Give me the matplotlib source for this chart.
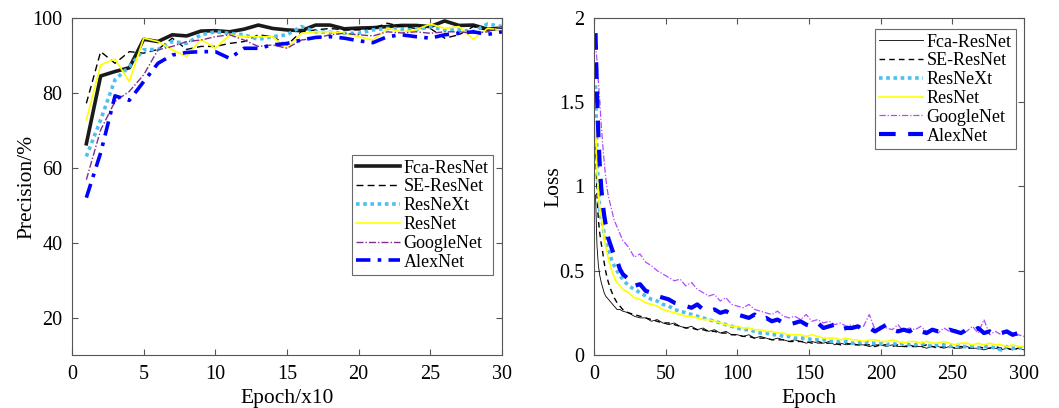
import matplotlib
matplotlib.use("Agg")
import matplotlib.pyplot as plt
import numpy as np

plt.rcParams['font.family'] = ['Liberation Serif', 'DejaVu Serif']
plt.rcParams['mathtext.fontset'] = 'stix'

# ---------------- Left: precision ----------------
prec_epoch = list(range(1, 31))
prec_fca = [66.4, 84.5, 85.7, 86.7, 94.3, 93.7, 95.5, 95.2, 96.5, 96.6,
            96.3, 97.0, 98.1, 97.2, 96.8, 96.6, 98.1, 98.1, 97.1, 97.3,
            97.4, 97.7, 98.0, 98.0, 97.7, 99.2, 98.0, 98.1, 97.0, 97.3]
prec_se = [77.2, 91.0, 87.9, 91.0, 90.6, 91.6, 94.6, 91.6, 92.4, 92.4,
           93.2, 93.7, 95.5, 95.0, 92.8, 96.3, 96.8, 97.2, 96.8, 96.8,
           97.2, 98.6, 97.7, 97.2, 97.2, 94.6, 95.5, 97.7, 96.6, 97.2]
prec_resnext = [63.0, 72.8, 83.5, 87.0, 91.5, 91.6, 93.7, 93.2, 95.5, 96.3,
                95.9, 95.5, 94.3, 95.0, 95.5, 97.7, 96.3, 96.2, 95.9, 95.9,
                96.8, 97.2, 97.0, 96.8, 97.7, 96.8, 96.8, 96.3, 98.4, 97.7]
prec_resnet = [72.8, 87.5, 89.0, 83.0, 94.6, 93.7, 91.5, 89.7, 94.3, 91.9,
               95.5, 95.0, 95.0, 95.0, 91.9, 95.9, 96.3, 96.3, 95.9, 95.0,
               94.1, 97.2, 96.3, 96.8, 98.4, 97.2, 97.7, 94.3, 97.2, 96.8]
prec_google = [56.8, 70.1, 77.7, 80.4, 84.8, 91.5, 92.4, 93.7, 94.1, 95.0,
               95.5, 94.1, 92.4, 92.8, 91.9, 94.1, 94.6, 95.5, 95.9, 95.5,
               95.2, 96.3, 96.0, 96.3, 95.9, 96.3, 96.3, 95.9, 96.3, 97.7]
prec_alex = [52.0, 64.0, 79.2, 78.0, 83.0, 87.9, 90.1, 90.8, 91.0, 91.0,
             89.2, 91.9, 91.9, 92.8, 93.2, 94.1, 94.8, 95.0, 94.6, 93.9,
             93.4, 95.0, 95.5, 95.0, 94.6, 95.5, 95.9, 96.3, 95.6, 96.3]

# ---------------- Right: loss ----------------
loss_epoch = [1, 2, 3, 4, 5, 6, 7, 8, 9, 10, 12, 14, 16, 18, 20,
              24, 28, 32, 36, 40, 44, 48, 52, 56, 60,
              64, 68, 72, 76, 80, 84, 88, 92, 96, 100,
              104, 108, 112, 116, 120, 124, 128, 132, 136, 140,
              144, 148, 152, 156, 160, 164, 168, 172, 176, 180,
              184, 188, 192, 196, 200, 204, 208, 212, 216, 220,
              224, 228, 232, 236, 240, 244, 248, 252, 256, 260,
              264, 268, 272, 276, 280, 284, 288, 292, 296, 300]
loss_fca = [0.95, 0.65, 0.53, 0.47, 0.43, 0.40, 0.37, 0.35, 0.34, 0.33, 0.31, 0.29, 0.27, 0.27, 0.26,
            0.25, 0.23, 0.22, 0.22, 0.20, 0.21, 0.19, 0.18, 0.19, 0.17,
            0.16, 0.17, 0.15, 0.16, 0.14, 0.15, 0.13, 0.14, 0.12, 0.12,
            0.11, 0.12, 0.10, 0.11, 0.10, 0.09, 0.10, 0.09, 0.08, 0.09,
            0.08, 0.07, 0.08, 0.07, 0.07, 0.08, 0.06, 0.07, 0.06, 0.07,
            0.06, 0.06, 0.05, 0.06, 0.06, 0.05, 0.06, 0.05, 0.05, 0.06,
            0.05, 0.05, 0.04, 0.05, 0.05, 0.04, 0.05, 0.04, 0.04, 0.05,
            0.04, 0.04, 0.03, 0.04, 0.04, 0.03, 0.04, 0.03, 0.04, 0.03]
loss_se = [1.25, 0.95, 0.80, 0.72, 0.66, 0.61, 0.55, 0.50, 0.46, 0.43, 0.38, 0.34, 0.31, 0.29, 0.27,
           0.25, 0.24, 0.23, 0.22, 0.21, 0.20, 0.19, 0.19, 0.18, 0.17,
           0.16, 0.16, 0.15, 0.15, 0.14, 0.14, 0.13, 0.13, 0.12, 0.12,
           0.11, 0.11, 0.10, 0.10, 0.10, 0.09, 0.09, 0.09, 0.08, 0.08,
           0.08, 0.08, 0.07, 0.08, 0.07, 0.07, 0.07, 0.06, 0.07, 0.06,
           0.06, 0.06, 0.06, 0.05, 0.06, 0.06, 0.05, 0.06, 0.05, 0.05,
           0.05, 0.05, 0.06, 0.05, 0.04, 0.05, 0.05, 0.04, 0.05, 0.04,
           0.04, 0.05, 0.04, 0.04, 0.05, 0.04, 0.04, 0.03, 0.04, 0.04]
loss_resnext = [1.60, 1.20, 0.98, 0.86, 0.80, 0.78, 0.72, 0.68, 0.64, 0.62, 0.57, 0.53, 0.50, 0.47, 0.45,
                0.41, 0.39, 0.37, 0.35, 0.33, 0.32, 0.30, 0.29, 0.27, 0.26,
                0.25, 0.24, 0.23, 0.22, 0.21, 0.20, 0.19, 0.18, 0.17, 0.16,
                0.15, 0.15, 0.14, 0.13, 0.13, 0.12, 0.12, 0.11, 0.11, 0.10,
                0.10, 0.10, 0.09, 0.09, 0.09, 0.08, 0.08, 0.08, 0.08, 0.07,
                0.07, 0.08, 0.07, 0.07, 0.07, 0.06, 0.07, 0.06, 0.07, 0.06,
                0.06, 0.07, 0.06, 0.05, 0.06, 0.06, 0.05, 0.06, 0.05, 0.05,
                0.05, 0.04, 0.05, 0.05, 0.04, 0.03, 0.05, 0.04, 0.04, 0.04]
loss_resnet = [1.38, 1.10, 0.95, 0.87, 0.82, 0.77, 0.70, 0.65, 0.61, 0.57, 0.51, 0.46, 0.43, 0.41, 0.39,
               0.37, 0.34, 0.33, 0.31, 0.30, 0.29, 0.27, 0.26, 0.25, 0.24,
               0.23, 0.23, 0.22, 0.21, 0.21, 0.20, 0.19, 0.18, 0.17, 0.17,
               0.16, 0.16, 0.15, 0.15, 0.14, 0.14, 0.13, 0.13, 0.12, 0.12,
               0.12, 0.11, 0.12, 0.11, 0.10, 0.10, 0.10, 0.09, 0.10, 0.09,
               0.09, 0.08, 0.09, 0.09, 0.08, 0.08, 0.09, 0.08, 0.07, 0.08,
               0.08, 0.07, 0.08, 0.07, 0.07, 0.08, 0.07, 0.06, 0.07, 0.07,
               0.06, 0.07, 0.06, 0.07, 0.06, 0.06, 0.05, 0.06, 0.05, 0.05]
loss_google = [1.85, 1.75, 1.62, 1.50, 1.36, 1.25, 1.15, 1.06, 0.99, 0.94, 0.87, 0.80, 0.76, 0.72, 0.68,
               0.64, 0.58, 0.60, 0.55, 0.53, 0.50, 0.48, 0.46, 0.44, 0.45,
               0.41, 0.43, 0.39, 0.37, 0.35, 0.36, 0.32, 0.34, 0.30, 0.29,
               0.28, 0.30, 0.27, 0.26, 0.25, 0.24, 0.26, 0.23, 0.22, 0.23,
               0.21, 0.24, 0.20, 0.21, 0.19, 0.20, 0.18, 0.19, 0.17, 0.18,
               0.16, 0.17, 0.24, 0.15, 0.17, 0.16, 0.15, 0.18, 0.14, 0.16,
               0.15, 0.17, 0.14, 0.15, 0.13, 0.16, 0.14, 0.15, 0.13, 0.14,
               0.17, 0.13, 0.21, 0.12, 0.14, 0.12, 0.13, 0.11, 0.12, 0.11]
loss_alex = [1.91, 1.55, 1.30, 1.12, 0.99, 0.90, 0.83, 0.78, 0.73, 0.69, 0.64, 0.59, 0.56, 0.51, 0.48,
             0.45, 0.41, 0.42, 0.38, 0.37, 0.35, 0.34, 0.33, 0.31, 0.30,
             0.29, 0.28, 0.30, 0.27, 0.26, 0.27, 0.25, 0.26, 0.24, 0.24,
             0.23, 0.22, 0.24, 0.21, 0.22, 0.20, 0.21, 0.19, 0.18, 0.19,
             0.20, 0.18, 0.17, 0.19, 0.16, 0.17, 0.18, 0.15, 0.16, 0.16,
             0.17, 0.15, 0.16, 0.14, 0.16, 0.18, 0.15, 0.14, 0.15, 0.14,
             0.16, 0.14, 0.13, 0.15, 0.14, 0.13, 0.15, 0.14, 0.13, 0.15,
             0.14, 0.16, 0.13, 0.14, 0.12, 0.13, 0.14, 0.12, 0.13, 0.12]

names = ['Fca-ResNet', 'SE-ResNet', 'ResNeXt', 'ResNet', 'GoogleNet', 'AlexNet']

fig = plt.figure(figsize=(10.59, 4.08), dpi=100)
axL = fig.add_axes([0.068, 0.130, 0.406, 0.826])
axR = fig.add_axes([0.561, 0.130, 0.406, 0.826])

spine_col = '#555555'
def style(ax):
    for s in ax.spines.values():
        s.set_color(spine_col)
        s.set_linewidth(0.8)
    ax.tick_params(direction='in', top=True, right=True, length=4,
                   color=spine_col, labelsize=14.5, width=0.8, pad=7)

CYAN = '#4DBEEE'
# left
axL.plot(prec_epoch, prec_fca, color='#1a1a1a', lw=2.6, ls='-', label=names[0])
axL.plot(prec_epoch, prec_se, color='black', lw=1.0, ls=(0, (5, 3)), label=names[1])
axL.plot(prec_epoch, prec_resnext, color=CYAN, lw=2.6, ls=(0, (1, 1)), label=names[2])
axL.plot(prec_epoch, prec_resnet, color='#FFFF00', lw=1.2, ls='-', label=names[3])
axL.plot(prec_epoch, prec_google, color='#7E2F8E', lw=1.0, ls=(0, (5, 1.5, 1, 1.5)), label=names[4])
axL.plot(prec_epoch, prec_alex, color='#0000FF', lw=2.6, ls=(0, (4, 2, 1, 2)), label=names[5])
axL.set_xlim(0, 30)
axL.set_ylim(10, 100)
axL.set_xticks([0, 5, 10, 15, 20, 25, 30])
axL.set_yticks([20, 40, 60, 80, 100])
axL.set_xlabel('Epoch/x10', fontsize=15.5, labelpad=4)
axL.set_ylabel('Precision/%', fontsize=15.5, labelpad=-3)
style(axL)
legL = axL.legend(loc='upper left', bbox_to_anchor=(0.651, 0.593), fontsize=13,
                  frameon=True, fancybox=False, edgecolor='#444444', handlelength=2.4,
                  borderpad=0.25, labelspacing=0.1, handletextpad=0.2, borderaxespad=0)
legL.get_frame().set_linewidth(0.8)

# right
axR.plot(loss_epoch, loss_fca, color='black', lw=0.6, ls='-', label=names[0])
axR.plot(loss_epoch, loss_se, color='black', lw=1.0, ls=(0, (4, 3)), label=names[1])
axR.plot(loss_epoch, loss_resnext, color=CYAN, lw=2.6, ls=(0, (1, 1)), label=names[2])
axR.plot(loss_epoch, loss_resnet, color='#FFFF00', lw=1.2, ls='-', label=names[3])
axR.plot(loss_epoch, loss_google, color='#B04CFF', lw=0.9, ls=(0, (5, 1.5, 1, 1.5)), label=names[4])
axR.plot(loss_epoch, loss_alex, color='#0000FF', lw=3.0, ls=(0, (4, 3)), label=names[5])
axR.set_xlim(0, 300)
axR.set_ylim(0, 2)
axR.set_xticks([0, 50, 100, 150, 200, 250, 300])
axR.set_yticks([0, 0.5, 1, 1.5, 2])
axR.set_yticklabels(['0', '0.5', '1', '1.5', '2'])
axR.set_xlabel('Epoch', fontsize=15.5, labelpad=4)
axR.set_ylabel('Loss', fontsize=15.5, labelpad=-3)
style(axR)
legR = axR.legend(loc='upper right', bbox_to_anchor=(0.981, 0.967), fontsize=13,
                  frameon=True, fancybox=False, edgecolor='#444444', handlelength=2.4,
                  borderpad=0.25, labelspacing=0.1, handletextpad=0.2, borderaxespad=0)
legR.get_frame().set_linewidth(0.8)

fig.savefig('out.png', dpi=100)
